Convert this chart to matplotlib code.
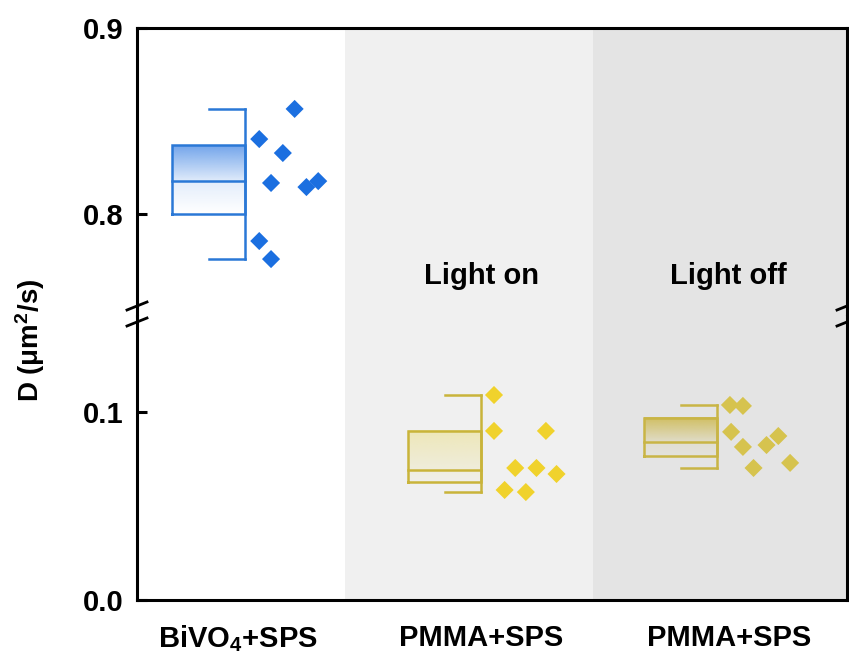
import numpy as np
import matplotlib
matplotlib.use("Agg")
import matplotlib.pyplot as plt
from matplotlib.lines import Line2D
from matplotlib.colors import to_rgb

plt.rcParams['font.family'] = ['Liberation Sans', 'DejaVu Sans']
plt.rcParams['font.weight'] = 'bold'
plt.rcParams['mathtext.fontset'] = 'custom'
plt.rcParams['mathtext.rm'] = 'Liberation Sans:bold'
plt.rcParams['mathtext.bf'] = 'Liberation Sans:bold'
plt.rcParams['mathtext.default'] = 'bf'

# ---- data ----
categories = ['BiVO$_4$+SPS', 'PMMA+SPS', 'PMMA+SPS']
conditions = ['Light on', 'Light off']

bivo4_points = [0.8565, 0.8403, 0.8328, 0.8167, 0.8145, 0.8177, 0.7855, 0.7758]
pmma_on_points = [0.1090, 0.0899, 0.0899, 0.0702, 0.0702, 0.0670, 0.0585, 0.0574]
pmma_off_points = [0.1037, 0.1032, 0.0894, 0.0814, 0.0824, 0.0872, 0.0702, 0.0729]

# box statistics: whisker low, Q1, median, Q3, whisker high
bivo4_box = [0.7758, 0.800, 0.8177, 0.837, 0.8565]
pmma_on_box = [0.0574, 0.0628, 0.0691, 0.0899, 0.1090]
pmma_off_box = [0.0702, 0.0766, 0.0840, 0.0968, 0.1037]

# horizontal scatter of the points to the right of each box
bivo4_jitter = [0.21, 0.06, 0.16, 0.11, 0.26, 0.31, 0.06, 0.11]
pmma_on_jitter = [0.055, 0.055, 0.275, 0.145, 0.235, 0.32, 0.10, 0.19]
pmma_off_jitter = [0.055, 0.11, 0.06, 0.11, 0.21, 0.26, 0.155, 0.31]

groups = [
    dict(pos=1, points=bivo4_points, box=bivo4_box, jitter=bivo4_jitter,
         edge='#2a78d6', marker='#1b6fe0', fill='#4f8ee6',
         a_top=(0.80, 0.18), a_bot=(0.16, 0.0)),
    dict(pos=2, points=pmma_on_points, box=pmma_on_box, jitter=pmma_on_jitter,
         edge='#c9b43a', marker='#f0d22c', fill='#ece08a',
         a_top=(0.55, 0.20), a_bot=(0.15, 0.05)),
    dict(pos=3, points=pmma_off_points, box=pmma_off_box, jitter=pmma_off_jitter,
         edge='#c9b545', marker='#d6c34e', fill='#cdb84a',
         a_top=(0.85, 0.18), a_bot=(0.12, 0.05)),
]

BOX_W = 0.31
CAP_W = 0.153
X_LIM = (0.542, 3.551)
SHADE = [(1.424, 2.475, '#f0f0f0'), (2.475, X_LIM[1], '#e4e4e4')]

fig = plt.figure(figsize=(8.49, 6.6), dpi=100)
ax_top = fig.add_axes([0.1614, 0.5212, 0.8362, 0.9576 - 0.5212])
ax_bot = fig.add_axes([0.1614, 0.0909, 0.8362, 0.5212 - 0.0909])

ax_top.set_ylim(0.7452, 0.9)
ax_bot.set_ylim(0.0, 0.151)


def gradient(ax, x0, x1, y0, y1, color, a0, a1):
    """Vertical gradient from alpha a0 at y0 to a1 at y1."""
    n = 128
    rgb = to_rgb(color)
    img = np.zeros((n, 2, 4))
    img[..., :3] = rgb
    img[..., 3] = np.linspace(a0, a1, n)[:, None]
    ax.imshow(img, extent=[x0, x1, y0, y1], origin='lower', aspect='auto',
              interpolation='bilinear', zorder=2)


for ax in (ax_top, ax_bot):
    ax.set_xlim(*X_LIM)
    for x0, x1, c in SHADE:
        ax.axvspan(x0, x1, color=c, lw=0, zorder=0)
    ax.set_facecolor('white')

for g in groups:
    ax = ax_top if g['pos'] == 1 else ax_bot
    lo, q1, med, q3, hi = g['box']
    xr = g['pos']
    xl = xr - BOX_W
    gradient(ax, xl, xr, q3, med, g['fill'], *g['a_top'])
    gradient(ax, xl, xr, med, q1, g['fill'], *g['a_bot'])
    lw = 1.8
    ax.plot([xl, xr, xr, xl, xl], [q1, q1, q3, q3, q1], color=g['edge'], lw=lw,
            zorder=3, solid_joinstyle='miter')
    ax.plot([xl, xr], [med, med], color=g['edge'], lw=lw, zorder=3)
    ax.plot([xr, xr], [lo, hi], color=g['edge'], lw=lw, zorder=3)
    ax.plot([xr - CAP_W, xr], [hi, hi], color=g['edge'], lw=lw, zorder=3)
    ax.plot([xr - CAP_W, xr], [lo, lo], color=g['edge'], lw=lw, zorder=3)
    xs = [xr + j for j in g['jitter']]
    ax.scatter(xs, g['points'], marker='D', s=85, color=g['marker'],
               edgecolors='none', zorder=4)

# spines and ticks
for ax in (ax_top, ax_bot):
    for s in ax.spines.values():
        s.set_linewidth(2.2)
        s.set_color('black')
        s.set_zorder(5)
    ax.tick_params(axis='y', direction='in', length=7, width=2.2,
                   labelsize=21, pad=10)
    ax.tick_params(axis='x', length=0)

ax_top.spines['bottom'].set_visible(False)
ax_bot.spines['top'].set_visible(False)
ax_top.set_xticks([])
ax_top.set_yticks([0.8, 0.9])
ax_top.set_yticklabels(['0.8', '0.9'])
ax_bot.set_yticks([0.0, 0.1])
ax_bot.set_yticklabels(['0.0', '0.1'])
ax_bot.set_xticks([0.97, 2.0, 3.05])
ax_bot.set_xticklabels(categories, fontsize=21, fontweight='bold')
ax_bot.tick_params(axis='x', pad=17)

for lab, x in zip(conditions, [2.0, 3.05]):
    ax_top.text(x, 0.7667, lab, ha='center', va='center', fontsize=21,
                fontweight='bold')

fig.text(0.036, 0.485, r'D (μm$^{2}$/s)', rotation=90, ha='center',
         va='center', fontsize=20, fontweight='bold')

# axis break marks on both vertical spines
W, H = 849, 660
for xc in (137, 847):
    for yc in (306, 322):
        fig.add_artist(Line2D([(xc - 10) / W, (xc + 10) / W],
                              [1 - (yc + 4) / H, 1 - (yc - 4) / H],
                              color='black', lw=2.0))

fig.savefig('out.png', dpi=100)
